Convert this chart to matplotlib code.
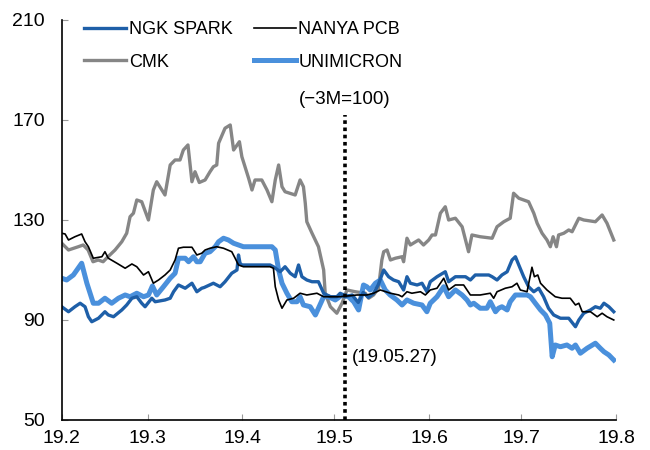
import matplotlib
matplotlib.use("Agg")
import matplotlib.pyplot as plt
import numpy as np
import pandas as pd

plt.rcParams['font.family'] = ['Liberation Sans', 'DejaVu Sans']

START = pd.Timestamp('2019-02-27')

# x values are day offsets from START
cmk_days = [0, 2.2, 5.4, 7.0, 8.6, 10.2, 11.9, 13.5, 15.1, 17.4, 19.6, 21.2, 22.3, 23.4, 24.5, 26.1, 28.3, 29.9,
            31.0, 33.7, 35.4, 37.0, 38.6, 39.7, 41.2, 42.5, 43.5, 44.9, 46.8, 48.4, 49.5, 50.6, 51.2, 53.3, 55.0,
            56.1, 58.0, 58.8, 61.0, 62.1, 63.1, 65.3, 67.0, 68.6, 69.7, 70.8, 71.9, 72.9, 76.2, 77.8, 78.9, 79.5,
            80.0, 81.7, 83.8, 85.5, 86.0, 87.7, 89.8, 91.5, 93.1, 95.8, 99.1, 100.2, 101.8, 103.4, 104.5, 105.1,
            106.2, 107.3, 108.9, 111.1, 111.6, 112.7, 113.8, 116.5, 118.1, 119.8, 120.9, 122.0, 123.6, 125.2,
            126.3, 128.5, 130.7, 132.8, 133.9, 136.6, 140.5, 142.1, 144.3, 146.4, 147.5, 149.2, 152.4, 154.1,
            155.2, 156.8, 158.4, 159.5, 160.4, 161.5, 162.2, 163.9, 165.5, 166.6, 168.8, 170.4, 174.2, 176.4,
            178.0, 180.2]
cmk_vals = [120.7, 118, 119.3, 120, 118, 113.3, 114, 113.3, 115.3, 118, 121.3, 124.7, 131.3, 132.7, 138, 137.3, 130,
            142, 145.3, 140, 152, 154, 154, 158, 160, 145.3, 149.3, 145, 146, 149.3, 151.3, 152, 160.7, 166.7, 168,
            158, 161.3, 155.3, 146.7, 142, 146, 146, 142, 137.3, 146, 152, 143.3, 141.3, 140, 146, 143.3, 136.7,
            129.3, 124.7, 119.3, 110, 100.7, 95.3, 92.7, 96.7, 102, 101.3, 100.7, 98.7, 100, 102.7, 114, 117.3,
            118, 114, 114.7, 115.3, 113.3, 122.7, 120, 122, 120, 122, 124, 124, 132.7, 135.3,
            130, 130.7, 127.3, 117.3, 124, 123.3, 122.7, 127.3, 129.3, 130.7, 140.7, 138.7, 137.3, 132.7,
            128.7, 124.7, 122, 119.3, 123.3, 119.3, 124, 124.7, 126, 125.3, 130.7, 130, 129.3, 132,
            128.7, 122]

ngk_days = [0, 2.2, 4.3, 6.0, 7.6, 8.7, 9.8, 12.0, 14.1, 15.2, 16.9, 19.6, 21.2, 22.9, 24.5, 26.1, 27.2, 29.4,
            30.5, 33.7, 35.4, 36.5, 38.1, 40.3, 42.5, 44.1, 45.7, 46.5, 49.5, 51.7, 53.3, 55.5, 57.2, 57.7, 58.2,
            58.8, 68.0, 69.1, 71.3, 72.9, 74.6, 76.2, 77.3, 78.4, 80.0, 81.7, 83.8, 85.5, 87.7, 89.8, 90.9, 92.6,
            94.8, 96.8, 98.4, 100.1, 101.7, 103.3, 105.1, 106.7, 108.3, 110.0, 111.6, 112.7, 113.8, 116.0, 117.6,
            119.2, 120.3, 122.5, 125.2, 126.3, 128.5, 131.8, 133.4, 135.0, 139.4, 140.5, 142.1, 143.7, 145.4,
            147.0, 148.1, 149.2, 150.8, 152.4, 154.1, 155.7, 157.3, 158.9, 160.6, 162.8, 165.5, 167.7, 168.8,
            170.4, 172.6, 174.2, 175.8, 177.0, 178.6, 180.2]
ngk_vals = [95.3, 93.3, 95.3, 96.7, 95.3, 91.3, 89.3, 90.7, 93.3, 92, 91.3, 94, 96, 98.7, 99.3, 96.7, 95.3, 98.7,
            97.3, 98, 98.7, 101.3, 104, 102.7, 104.7, 101.3, 102.7, 103, 104.7, 103.3, 105.3, 108.7, 110, 116, 112.7,
            112, 112, 111.3, 109.3, 111.3, 108.7, 107.3, 112, 107.3, 106, 105.3, 105.3, 100.7, 99.3, 99.3, 100.7, 99.3,
            100, 97, 101, 99, 100.5, 104, 110, 107.3, 106, 105.3, 102, 107.3, 104.7, 104, 104.7,
            101.3, 105.3, 107.3, 109.3, 105.3, 107.3, 107.3, 106, 108, 108, 107.3, 106, 108, 109.3,
            114, 115.3, 112, 107.3, 103.3, 101.3, 102.7, 99.3, 94.7, 92, 90.7, 90.7, 87.3, 90,
            92.7, 94, 95.3, 94.7, 96.7, 95.3, 93.3]

nanya_days = [0, 1.1, 2.2, 4.3, 6.5, 7.6, 8.7, 10.3, 13.1, 14.1, 15.2, 18.0, 20.7, 22.9, 24.5, 26.7, 28.3, 29.9,
              31.6, 33.7, 35.4, 37.0, 38.1, 39.7, 42.5, 44.1, 45.7, 46.8, 48.4, 50.6, 52.8, 55.5, 56.6, 57.7, 59.3,
              68.0, 69.1, 69.7, 70.8, 71.9, 73.5, 75.7, 77.8, 80.0, 83.3, 85.5, 90.9, 96.4, 99.6, 101.8, 104.0,
              107.3, 110.0, 111.1, 112.7, 114.3, 117.1, 118.7, 120.3, 122.5, 124.7, 126.3, 128.5, 131.2, 133.4,
              136.6, 139.9, 141.0, 142.1, 144.8, 147.0, 148.6, 149.7, 151.9, 153.5, 154.3, 155.4, 156.3, 158.4,
              161.1, 163.3, 166.0, 167.7, 168.8, 169.9, 172.6, 174.8, 176.4, 178.0, 180.2]
nanya_vals = [124.7, 124.4, 122, 123.3, 124.4, 121.3, 119.3, 114.7, 115.3, 117.3, 114.7, 112.7, 110.7, 112.4, 111.3,
              108, 109.3, 104.7, 106, 108, 110, 114, 118.7, 119.1, 119.1, 116, 116.7, 118, 118.7, 119.3, 118.7,
              117.3, 114.7, 112, 111.3, 111.3, 110.7, 103.3, 98, 94.7, 98, 98.7, 100.7, 100, 100.7, 99.3, 99.3,
              100, 100, 100.7, 102, 100.7, 100, 99.3, 101.3, 100.7, 101.3, 100, 102, 102.7, 106.7, 102, 104, 104,
              100, 100, 100.7, 98.7, 101.3, 102.7, 103.3, 104.7, 102, 101.3, 111.1, 107.3, 108, 104.7, 102,
              99.3, 98.7, 98.7, 96, 96.7, 93.3, 93.3, 91.3, 92.7, 91.3, 90]

uni_days = [0, 1.6, 3.8, 6.5, 8.2, 10.3, 12.0, 14.1, 16.3, 18.5, 20.7, 22.3, 24.5, 26.7, 28.3, 29.6, 31.0, 33.2,
            35.4, 37.0, 38.1, 40.3, 41.4, 43.0, 44.1, 45.2, 46.8, 48.4, 50.1, 51.2, 52.8, 54.4, 56.1, 57.7, 59.3,
            68.6, 69.7, 70.8, 71.9, 73.5, 75.1, 76.8, 77.8, 78.9, 81.1, 82.8, 83.8, 85.5, 87.1, 89.3, 91.5, 93.6,
            95.3, 96.9, 98.5, 99.6, 100.7, 102.4, 104.0, 105.6, 107.2, 109.4, 111.1, 112.7, 114.9, 117.6, 119.2,
            120.3, 122.5, 124.7, 126.3, 128.5, 130.7, 132.3, 133.4, 134.5, 136.6, 138.8, 139.9, 141.6, 142.6,
            143.7, 145.4, 146.4, 148.1, 151.9, 153.0, 154.6, 156.3, 157.9, 159.3, 160.1, 161.1, 162.8, 164.9,
            166.6, 167.7, 169.3, 171.5, 174.2, 175.8, 177.0, 178.6, 180.2]
uni_vals = [106.7, 106, 108, 112.7, 104.7, 96.7, 96.7, 98.7, 96.7, 98.7, 100, 99.3, 100.7, 99.3, 100, 103.6, 100,
            103.3, 106.7, 108.7, 114.7, 114.7, 113.3, 115.3, 113.3, 113.3, 116.7, 117.3, 119.3, 121.3, 122.7, 122,
            120.7, 120, 119.3, 119.3, 118, 110, 104.7, 100.7, 97.3, 97.3, 99.3, 96, 95.3, 92, 94.7, 99.3, 99.3, 98,
            100, 99.3, 97.3, 94, 104, 103.3, 102, 104.7, 106, 102, 100, 98, 96, 98, 96.7, 96, 93.3,
            96.7, 99.3, 103.3, 99.3, 102, 100, 98, 96, 96.7, 94.7, 94.7, 97.3, 93.3, 94.7,
            95.3, 94, 97.3, 100, 100, 99.3, 96.7, 94, 92, 88.7, 75.3, 80, 79.3, 80,
            78.7, 80, 76.7, 78.7, 80.7, 78.7, 77.3, 76, 74]

names = ['NGK SPARK', 'CMK', 'NANYA PCB', 'UNIMICRON']
tick_labels = ['19.2', '19.3', '19.4', '19.5', '19.6', '19.7', '19.8']
y_ticks = [50, 90, 130, 170, 210]
event_day = 92.4
base_label = '(\u22123M=100)'
event_label = '(19.05.27)'


def to_dates(days):
    return START + pd.to_timedelta(np.array(days), unit='D')


fig = plt.figure(figsize=(6.5, 4.5), dpi=100)
ax = fig.add_axes([0.095, 0.0667, 0.853, 0.8889])

l_cmk, = ax.plot(to_dates(cmk_days), cmk_vals, color='#868686', lw=2.4, label=names[1], solid_joinstyle='round')
l_uni, = ax.plot(to_dates(uni_days), uni_vals, color='#4A90DC', lw=3.6, label=names[3], solid_joinstyle='round')
l_ngk, = ax.plot(to_dates(ngk_days), ngk_vals, color='#1E5FA8', lw=2.4, label=names[0], solid_joinstyle='round')
l_nan, = ax.plot(to_dates(nanya_days), nanya_vals, color='black', lw=1.2, label=names[2])

ev = to_dates([event_day])[0]
ax.plot([ev, ev], [50, 172], color='black', lw=2.6, ls=(0, (1, 1)))
ax.text(ev, 178, base_label, ha='center', va='center', fontsize=13.5)
ax.text(to_dates([event_day + 2.4])[0], 75, event_label, ha='left', va='center', fontsize=13.5)

ax.set_ylim(50, 210)
ax.set_yticks(y_ticks)
ax.set_xlim(START, START + pd.DateOffset(months=6))
ax.set_xticks([START + pd.DateOffset(months=i) for i in range(len(tick_labels))])
ax.set_xticklabels(tick_labels)

for s in ['top', 'right']:
    ax.spines[s].set_visible(False)
for s in ['left', 'bottom']:
    ax.spines[s].set_linewidth(1.2)
ax.tick_params(axis='both', direction='in', length=4, color='#999999', labelsize=14)
ax.tick_params(axis='x', pad=7)
ax.tick_params(axis='y', pad=12)

ax.legend([l_ngk, l_cmk, l_nan, l_uni], [names[0], names[1], names[2], names[3]], ncol=2, loc='upper left',
          bbox_to_anchor=(0.028, 1.015), frameon=False, fontsize=13, handlelength=2.3, handletextpad=0.15,
          columnspacing=1.2, labelspacing=0.85, borderaxespad=0)

fig.savefig('out.png', dpi=100)
